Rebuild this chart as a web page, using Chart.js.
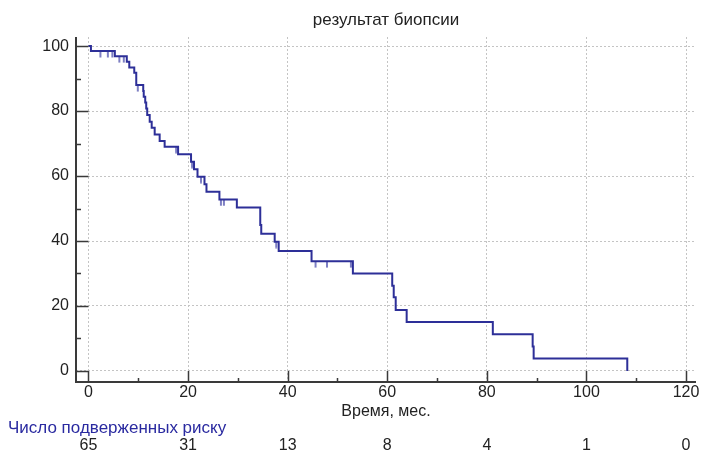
<!DOCTYPE html>
<html>
<head>
<meta charset="utf-8">
<script src="https://cdn.jsdelivr.net/npm/chart.js@4"></script>
<style>
  html, body { margin: 0; padding: 0; background: #fff; }
  #wrap { width: 702px; height: 450px; }
</style>
</head>
<body>
<div id="wrap"><canvas id="kmChart"></canvas></div>
<script>
// кривая Каплана-Мейера
const times = [0, 0.5, 5.3, 7.7, 8.2, 9.2, 9.6, 11.0, 11.1, 11.4, 11.6, 11.8, 12.3, 12.7, 13.3, 14.3, 15.3, 18.0,
  20.6, 21.2, 21.9, 23.3, 23.7, 26.3, 29.8, 34.5, 34.7, 37.4, 38.2, 44.8, 53.1, 61.0, 61.3, 61.7, 63.9, 81.2, 89.2, 89.4, 108.2];
const survival = [100, 98.5, 96.9, 95.2, 93.4, 91.8, 88.0, 86.2, 84.4, 82.6, 80.8, 78.8, 76.7, 74.9, 72.8, 70.8, 69.0, 66.7,
  64.4, 62.1, 59.8, 57.5, 55.2, 52.8, 50.3, 44.9, 42.2, 39.8, 36.9, 33.8, 30.0, 26.2, 22.7, 18.8, 15.1, 11.3, 7.5, 3.8, 0];

// цензурированные наблюдения
const censorTimes = [2.4, 3.9, 4.8, 6.2, 7.1, 9.9, 17.6, 20.8, 22.6, 26.6, 27.2, 37.7, 45.6, 47.9, 52.7];
const censorLevels = [98.5, 98.5, 98.5, 96.9, 96.9, 88.0, 69.0, 64.4, 59.8, 52.8, 52.8, 39.8, 33.8, 33.8, 33.8];

// таблица числа под риском
const riskTimes = [0, 20, 40, 60, 80, 100, 120];
const riskCounts = [65, 31, 13, 8, 4, 1, 0];

const xTicks = [0, 10, 20, 30, 40, 50, 60, 70, 80, 90, 100, 110, 120];
const yTicks = [0, 10, 20, 30, 40, 50, 60, 70, 80, 90, 100];

const FONT = "'Liberation Sans', Arial, sans-serif";
const lineColor = '#2d2f98';

// метка цензурирования: короткая вертикальная черта вниз от линии
const censorMark = document.createElement('canvas');
censorMark.width = 4;
censorMark.height = 14;
(function () {
  const c = censorMark.getContext('2d');
  c.strokeStyle = 'rgba(50, 54, 160, 0.85)';
  c.lineWidth = 1.5;
  c.beginPath();
  c.moveTo(2, 7);
  c.lineTo(2, 13.5);
  c.stroke();
})();

const kmPoints = times.map((t, i) => ({ x: t, y: survival[i] }));
const censorPoints = censorTimes.map((t, i) => ({ x: t, y: censorLevels[i] }));

const axesPlugin = {
  id: 'kmAxes',
  afterDraw(chart) {
    const { ctx, chartArea } = chart;
    const xs = chart.scales.x, ys = chart.scales.y;
    const x0 = xs.getPixelForValue(0);
    const y0 = ys.getPixelForValue(0);
    ctx.save();
    ctx.strokeStyle = '#3a3a3a';
    ctx.lineWidth = 2;
    ctx.beginPath();
    ctx.moveTo(chartArea.left, chartArea.top);
    ctx.lineTo(chartArea.left, chartArea.bottom);
    ctx.lineTo(chartArea.right, chartArea.bottom);
    ctx.stroke();

    ctx.lineWidth = 1.5;
    ctx.beginPath();
    yTicks.forEach(v => {
      const py = Math.round(ys.getPixelForValue(v)) + 0.5;
      const len = v % 20 === 0 ? (x0 - chartArea.left) : 5;
      ctx.moveTo(chartArea.left, py);
      ctx.lineTo(chartArea.left + len, py);
    });
    xTicks.forEach(v => {
      const px = Math.round(xs.getPixelForValue(v)) + 0.5;
      const len = v % 20 === 0 ? (chartArea.bottom - y0) : 4;
      ctx.moveTo(px, chartArea.bottom);
      ctx.lineTo(px, chartArea.bottom - len);
    });
    ctx.stroke();

    // заголовок
    ctx.fillStyle = '#222';
    ctx.font = '17px ' + FONT;
    ctx.textAlign = 'center';
    ctx.textBaseline = 'middle';
    ctx.fillText('результат биопсии', (chartArea.left + chartArea.right) / 2, 20);

    // число под риском
    ctx.textAlign = 'left';
    ctx.fillStyle = '#2a2aa0';
    ctx.fillText('Число подверженных риску', 8, 428);
    ctx.font = '16px ' + FONT;
    ctx.fillStyle = '#222';
    ctx.textAlign = 'center';
    riskTimes.forEach((t, i) => {
      ctx.fillText(String(riskCounts[i]), xs.getPixelForValue(t), 446);
    });
    ctx.restore();
  }
};

const gridColor = ctx => (ctx.tick && ctx.tick.value % 20 === 0) ? '#c4c4c4' : 'rgba(0,0,0,0)';

new Chart(document.getElementById('kmChart'), {
  type: 'line',
  data: {
    datasets: [{
      label: 'результат биопсии',
      data: kmPoints,
      stepped: 'before',
      borderColor: lineColor,
      borderWidth: 2,
      pointRadius: 0,
      fill: false
    }, {
      type: 'scatter',
      label: 'цензурированные',
      data: censorPoints,
      pointStyle: censorMark,
      pointRadius: 5,
      showLine: false
    }]
  },
  options: {
    responsive: true,
    maintainAspectRatio: false,
    animation: false,
    layout: { padding: { top: 37, right: 0, left: 0, bottom: 0 } },
    plugins: {
      legend: { display: false },
      tooltip: { enabled: false }
    },
    scales: {
      x: {
        type: 'linear',
        min: -2.5,
        max: 122.0,
        afterBuildTicks: scale => { scale.ticks = xTicks.map(v => ({ value: v })); },
        afterFit: scale => { scale.height = 68; scale.paddingLeft = 0; scale.paddingRight = 0; },
        ticks: {
          autoSkip: false,
          maxRotation: 0,
          padding: 1,
          color: '#222',
          font: { family: FONT, size: 16 },
          callback: v => (v % 20 === 0 ? String(v) : '')
        },
        grid: { color: gridColor, lineWidth: 1, drawTicks: false },
        border: { display: false, dash: [2, 2] },
        title: {
          display: true,
          text: 'Время, мес.',
          color: '#222',
          font: { family: FONT, size: 16 },
          padding: { top: 0, bottom: 29 }
        }
      },
      y: {
        min: -3.4,
        max: 102.8,
        afterBuildTicks: scale => { scale.ticks = yTicks.map(v => ({ value: v })); },
        afterFit: scale => { scale.width = 76; scale.paddingTop = 0; scale.paddingBottom = 0; },
        ticks: {
          autoSkip: false,
          padding: 7,
          color: '#222',
          font: { family: FONT, size: 16 },
          callback: v => (v % 20 === 0 ? String(v) : '')
        },
        grid: { color: gridColor, lineWidth: 1, drawTicks: false },
        border: { display: false, dash: [2, 2] }
      }
    }
  },
  plugins: [axesPlugin]
});
</script>
</body>
</html>
